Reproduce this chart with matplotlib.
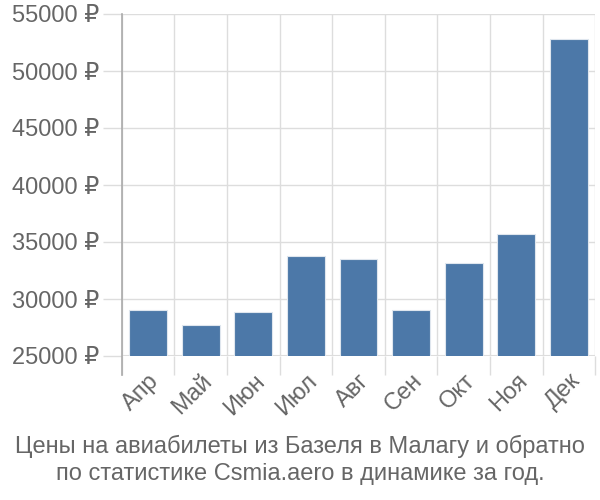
import matplotlib
matplotlib.use("Agg")
import matplotlib.pyplot as plt
import numpy as np

months = ["Апр", "Май", "Июн", "Июл", "Авг", "Сен", "Окт", "Ноя", "Дек"]
prices = [29000, 27700, 28900, 33800, 33500, 29000, 33150, 35700, 52800]
yticks = [25000, 30000, 35000, 40000, 45000, 50000, 55000]
title = "Цены на авиабилеты из Базеля в Малагу и обратно\nпо статистике Csmia.aero в динамике за год."

plt.rcParams['font.family'] = ['Liberation Sans', 'DejaVu Sans']

fig = plt.figure(figsize=(6, 5), dpi=100)
ax = fig.add_axes([0.203, 0.288, 0.789, 0.684])

x = np.arange(len(months))
ax.bar(x, prices, width=0.72, color="#4C78A8", edgecolor="#dfe6ee", linewidth=0.8, zorder=3)

ax.set_xlim(-0.5, len(months) - 0.5)
ax.set_ylim(25000, 55000)
ax.set_yticks(yticks)
ax.set_yticklabels([f"{v} ₽" for v in yticks])
ax.set_xticks(x)
ax.set_xticklabels(months, rotation=45, ha="right", rotation_mode="anchor")
ax.set_xticks(np.arange(len(months) + 1) - 0.5, minor=True)

grid_c = "#dddddd"
ax.grid(axis="y", color=grid_c, linewidth=1, zorder=0)
ax.grid(axis="x", which="minor", color=grid_c, linewidth=1, zorder=0)
ax.tick_params(axis="x", which="major", length=0, pad=10, labelsize=17, labelcolor="#666666")
ax.tick_params(axis="x", which="minor", length=14, color=grid_c, width=1)
ax.tick_params(axis="y", length=14, color=grid_c, width=1, pad=2, labelsize=17, labelcolor="#666666")

for s in ["top", "right", "bottom"]:
    ax.spines[s].set_visible(False)
ax.spines["left"].set_color("#aaaaaa")
ax.spines["left"].set_linewidth(1.2)
ax.spines["left"].set_bounds(23300, 55000)
ax.axhline(25000, color=grid_c, linewidth=1.5, zorder=2)

fig.text(0.5, 0.080, title, ha="center", va="center", fontsize=17, color="#666666", linespacing=1.25)

fig.savefig("out.png", dpi=100)
